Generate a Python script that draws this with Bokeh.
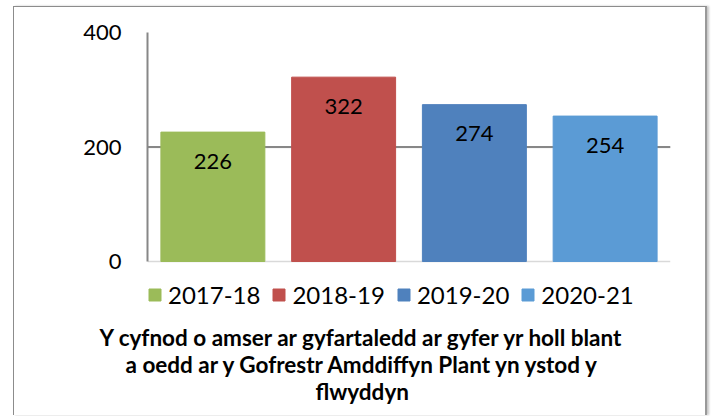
from bokeh.plotting import figure
from bokeh.models import FactorRange, Range1d, FixedTicker, Span, Title, ColumnDataSource
from bokeh.core.properties import value
from bokeh.embed import file_html
from bokeh.resources import INLINE

years = ["2017-18", "2018-19", "2019-20", "2020-21"]
values = [226, 322, 274, 254]
colors = ["#9BBB59", "#C0504D", "#4F81BD", "#5B9BD5"]
y_ticks = [0, 200, 400]
title_lines = [
    "Y cyfnod o amser ar gyfartaledd ar gyfer yr holl blant",
    "a oedd ar y Gofrestr Amddiffyn Plant yn ystod y",
    "flwyddyn",
]

FONT = "Lato"
BORDER = "1px solid #8c8c8c"

# layout in pixels
W = 694
LEFT, TOP, FRAME_W = 133, 25, 523
AXIS_PX = 229          # height of the 0..400 span
BELOW_ZERO_PX = 62     # frame room below zero for the legend
BOTTOM = 93            # caption panel
H = TOP + AXIS_PX + BELOW_ZERO_PX + BOTTOM
y_start = -BELOW_ZERO_PX * (y_ticks[-1] - y_ticks[0]) / AXIS_PX

# caption lines: left offsets (px from plot-area left) that centre each line
title_offsets = [-48, -22, 168]

src = ColumnDataSource(dict(year=years, value=values, color=colors,
                            label=[str(v) for v in values]))

p = figure(width=W, height=H,
           x_range=FactorRange(factors=years, range_padding=0),
           y_range=Range1d(y_start, y_ticks[-1]),
           output_backend="svg", toolbar_location=None,
           min_border_left=LEFT, min_border_right=W - LEFT - FRAME_W,
           min_border_top=TOP, min_border_bottom=BOTTOM)
p.styles = {"margin-left": "13px", "margin-top": "6px",
            "border-left": BORDER, "border-top": BORDER,
            "border-right": "2px solid #999999",
            "box-shadow": "2px 0px 2px #c8c8c8"}
p.outline_line_color = None
p.background_fill_color = "white"
p.border_fill_color = "white"

p.xaxis.visible = False
p.xgrid.visible = False
p.ygrid.ticker = FixedTicker(ticks=y_ticks)
p.ygrid.grid_line_color = "#d9d9d9"
p.ygrid.grid_line_width = 1.5

p.yaxis.ticker = FixedTicker(ticks=y_ticks)
p.yaxis.bounds = (y_ticks[0], y_ticks[-1])
p.yaxis.major_tick_out = 0
p.yaxis.major_tick_in = 0
p.yaxis.minor_tick_out = 0
p.yaxis.minor_tick_in = 0
p.yaxis.major_label_standoff = 26
p.yaxis.axis_line_color = "#878787"
p.yaxis.axis_line_width = 2
p.yaxis.major_label_text_font = FONT
p.yaxis.major_label_text_font_size = "22px"
p.yaxis.major_label_text_color = "black"

mid = Span(location=y_ticks[1], dimension="width", line_color="#878787",
           line_width=2, level="underlay")
p.add_layout(mid)

p.vbar(x="year", top="value", width=0.795, color="color", source=src,
       legend_field="year")
p.text(x="year", y="value", text="label", text_align="center",
       text_baseline="middle", y_offset=29, text_font=value(FONT),
       text_font_size="22px", text_color="black", source=src)

leg = p.legend[0]
leg.location = (0, 14)
leg.orientation = "horizontal"
leg.padding = 0
leg.margin = 0
leg.spacing = 11
leg.label_standoff = 6
leg.glyph_width = 15
leg.glyph_height = 15
leg.label_text_font = FONT
leg.label_text_font_size = "24px"
leg.label_text_color = "black"
leg.border_line_color = None
leg.background_fill_alpha = 0

for line, off in zip(title_lines, title_offsets):
    p.add_layout(Title(text=line, align="left", offset=off,
                       vertical_align="middle", standoff=-2,
                       text_font=FONT, text_font_style="bold",
                       text_font_size="22.5px", text_color="black"), "below")

open("out.html", "w").write(file_html(p, INLINE))
